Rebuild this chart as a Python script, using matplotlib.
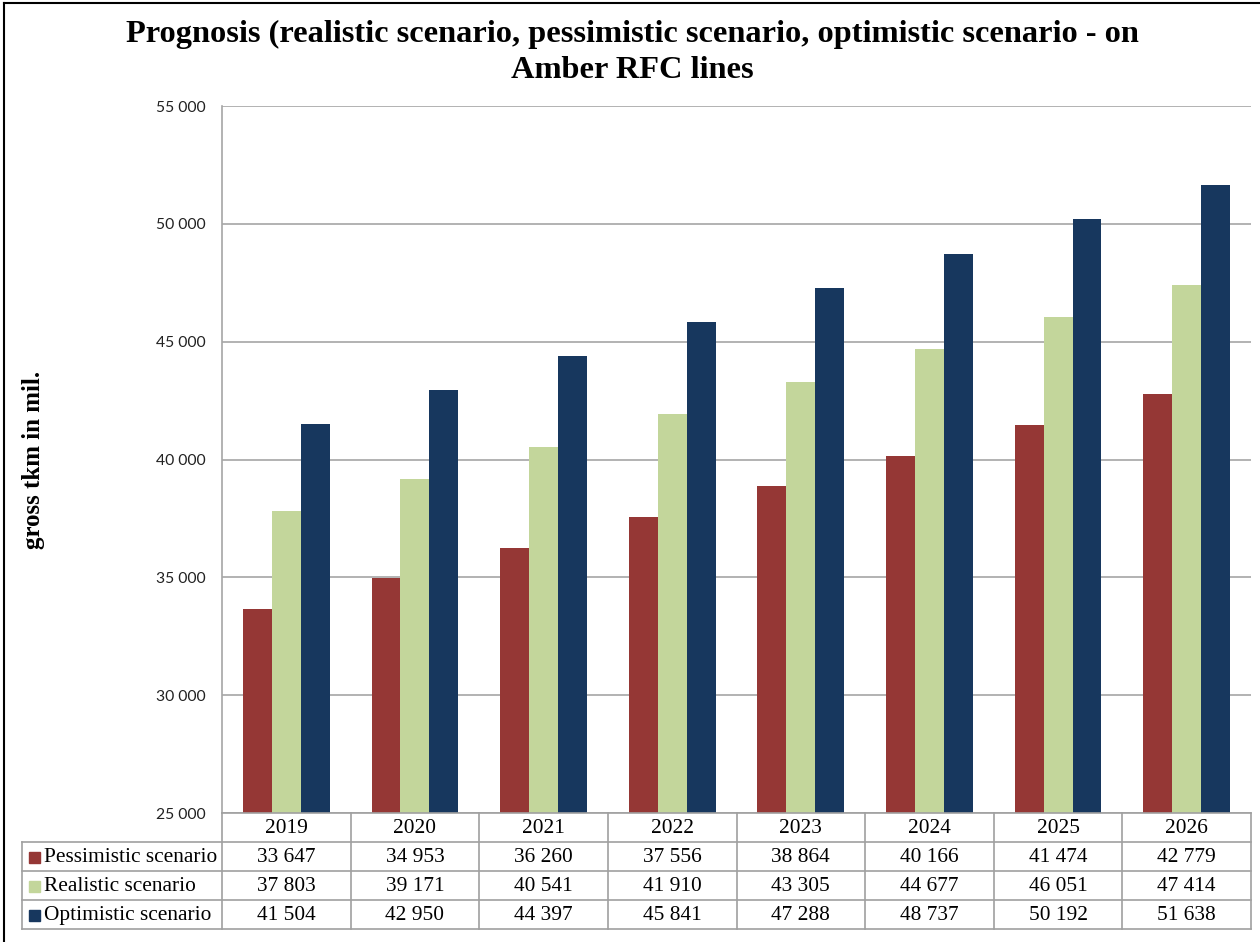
import matplotlib.pyplot as plt

# Forecast of gross tonne-km (millions) on Amber RFC lines
years = ["2019", "2020", "2021", "2022", "2023", "2024", "2025", "2026"]
pessimistic = [33647, 34953, 36260, 37556, 38864, 40166, 41474, 42779]
realistic = [37803, 39171, 40541, 41910, 43305, 44677, 46051, 47414]
optimistic = [41504, 42950, 44397, 45841, 47288, 48737, 50192, 51638]
series_names = ["Pessimistic scenario", "Realistic scenario", "Optimistic scenario"]
y_ticks = [25000, 30000, 35000, 40000, 45000, 50000, 55000]

title = "Prognosis (realistic scenario, pessimistic scenario, optimistic scenario - on\nAmber RFC lines"
y_label = "gross tkm in mil."

colors = ["#953735", "#C3D69B", "#17375E"]
grid_color = "#A6A6A6"
serif = "Liberation Serif"


def fmt(v):
    return f"{v:,}".replace(",", " ")


W, H = 1260, 942
fig = plt.figure(figsize=(W / 100, H / 100), dpi=100)


def box(l, t, r, b):
    return [l / W, 1 - b / H, (r - l) / W, (b - t) / H]


PL, PT, PR, PB = 222, 106, 1251, 813
ax = fig.add_axes(box(PL, PT, PR, PB))

series = [pessimistic, realistic, optimistic]
n = len(years)
bw = 0.225
x = list(range(n))
for i, (vals, c) in enumerate(zip(series, colors)):
    ax.bar([xi + (i - 1) * bw for xi in x], vals, width=bw, color=c,
           edgecolor="none", zorder=3, label=series_names[i])

ax.set_xlim(-0.5, n - 0.5)
ax.set_ylim(y_ticks[0], y_ticks[-1])
ax.set_yticks(y_ticks)
ax.set_yticklabels([fmt(v) for v in y_ticks], fontfamily="Lato", fontsize=11.3,
                   color="#222222")
ax.set_xticks([])
ax.tick_params(axis="y", length=0, pad=11.5)
ax.yaxis.grid(True, color=grid_color, linewidth=1.2, zorder=0)
for s in ["top", "right", "bottom"]:
    ax.spines[s].set_visible(False)
ax.spines["left"].set_color(grid_color)
ax.spines["left"].set_linewidth(1.2)

# overlay in pixel coordinates for title, axis label, frame and data table
ov = fig.add_axes([0, 0, 1, 1])
ov.set_xlim(0, W)
ov.set_ylim(H, 0)
ov.set_axis_off()

ov.text(632, 52, title, ha="center", va="center", fontfamily=serif,
        fontweight="bold", fontsize=23.3, linespacing=1.32)
ov.text(34, 460, y_label, ha="center", va="center", rotation=90,
        fontfamily=serif, fontweight="bold", fontsize=18)

# outer frame
ov.plot([4, 4], [3, H], color="black", lw=1.5)
ov.plot([4, W], [3, 3], color="black", lw=1.5)

# data table
TL = 22
col_w = (PR - PL) / n
rows = [813, 842, 871, 900, 929]
tcolor = "#A0A0A0"
ov.plot([PL, PR], [rows[0], rows[0]], color=tcolor, lw=1.2)
for yv in rows[1:]:
    ov.plot([TL, PR], [yv, yv], color=tcolor, lw=1.2)
ov.plot([TL, TL], [rows[1], rows[-1]], color=tcolor, lw=1.2)
for k in range(n + 1):
    xv = PL + k * col_w
    ov.plot([xv, xv], [rows[0], rows[-1]], color=tcolor, lw=1.2)

tfs = 15.4
for k, yr in enumerate(years):
    ov.text(PL + (k + 0.5) * col_w, (rows[0] + rows[1]) / 2 + 1, yr, ha="center",
            va="center", fontfamily=serif, fontsize=tfs)
for r, (name, vals, c) in enumerate(zip(series_names, series, colors)):
    yc = (rows[r + 1] + rows[r + 2]) / 2 + 1
    ov.add_patch(plt.Rectangle((29, yc - 5.5), 11, 11, color=c))
    ov.text(44, yc, name, ha="left", va="center", fontfamily=serif, fontsize=tfs)
    for k, v in enumerate(vals):
        ov.text(PL + (k + 0.5) * col_w, yc, fmt(v), ha="center", va="center",
                fontfamily=serif, fontsize=tfs)

fig.savefig("out.png", dpi=100)
